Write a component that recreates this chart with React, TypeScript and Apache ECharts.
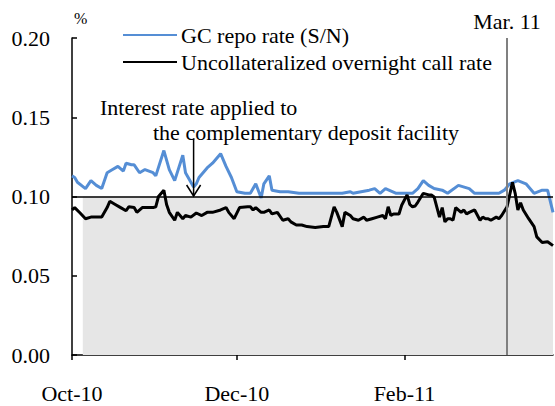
import React, { useEffect, useRef } from "react";
import * as echarts from "echarts";

const FONT = "Liberation Serif";

const startDate = "2010-10-01";
const endDate = "2011-03-28";

const xTickDates = ["2010-10-01", "2010-12-01", "2011-02-01"];
const xTickLabels = ["Oct-10", "Dec-10", "Feb-11"];
const yTicks = [0, 0.05, 0.1, 0.15, 0.2];

const seriesNames = ["GC repo rate (S/N)", "Uncollateralized overnight call rate"];

const repoDates = [
  "2010-10-01", "2010-10-02", "2010-10-03", "2010-10-06", "2010-10-08", "2010-10-10", "2010-10-12",
  "2010-10-14", "2010-10-16", "2010-10-18", "2010-10-20", "2010-10-21", "2010-10-23", "2010-10-24",
  "2010-10-26", "2010-10-28", "2010-10-31", "2010-11-01", "2010-11-04", "2010-11-06", "2010-11-08",
  "2010-11-11", "2010-11-12", "2010-11-15", "2010-11-16", "2010-11-17", "2010-11-20", "2010-11-22",
  "2010-11-25", "2010-11-27", "2010-11-29", "2010-12-01", "2010-12-04", "2010-12-06", "2010-12-08",
  "2010-12-10", "2010-12-11", "2010-12-13", "2010-12-14", "2010-12-17", "2010-12-20", "2010-12-24",
  "2011-01-09", "2011-01-12", "2011-01-13", "2011-01-19", "2011-01-21", "2011-01-23", "2011-01-25",
  "2011-01-29", "2011-02-04", "2011-02-06", "2011-02-08", "2011-02-10", "2011-02-12", "2011-02-15",
  "2011-02-17", "2011-02-21", "2011-02-25", "2011-02-27", "2011-03-08", "2011-03-10", "2011-03-12",
  "2011-03-15", "2011-03-18", "2011-03-21", "2011-03-24", "2011-03-26", "2011-03-28",
];
const repoValues = [
  0.113, 0.112, 0.109, 0.105, 0.11, 0.107, 0.105,
  0.115, 0.117, 0.119, 0.116, 0.121, 0.12, 0.12,
  0.115, 0.117, 0.115, 0.113, 0.129, 0.117, 0.11,
  0.126, 0.115, 0.106, 0.108, 0.112, 0.118, 0.121,
  0.127, 0.119, 0.112, 0.103, 0.102, 0.102, 0.108,
  0.099, 0.108, 0.113, 0.104, 0.103, 0.103, 0.102,
  0.102, 0.103, 0.102, 0.104, 0.105, 0.102, 0.105,
  0.102, 0.102, 0.105, 0.11, 0.107, 0.105, 0.104,
  0.102, 0.107, 0.105, 0.102, 0.102, 0.104, 0.108,
  0.11, 0.108, 0.102, 0.104, 0.104, 0.09,
];

const callDates = [
  "2010-10-01", "2010-10-02", "2010-10-04", "2010-10-06", "2010-10-08", "2010-10-10", "2010-10-12",
  "2010-10-14", "2010-10-15", "2010-10-17", "2010-10-19", "2010-10-21", "2010-10-22", "2010-10-24",
  "2010-10-25", "2010-10-27", "2010-10-31", "2010-11-01", "2010-11-02", "2010-11-04", "2010-11-05",
  "2010-11-06", "2010-11-08", "2010-11-09", "2010-11-11", "2010-11-12", "2010-11-14", "2010-11-16",
  "2010-11-18", "2010-11-20", "2010-11-22", "2010-11-25", "2010-11-27", "2010-11-28", "2010-11-30",
  "2010-12-02", "2010-12-05", "2010-12-06", "2010-12-07", "2010-12-08", "2010-12-10", "2010-12-11",
  "2010-12-13", "2010-12-14", "2010-12-16", "2010-12-18", "2010-12-20", "2010-12-21", "2010-12-23",
  "2010-12-25", "2010-12-27", "2010-12-30", "2011-01-02", "2011-01-04", "2011-01-06", "2011-01-07",
  "2011-01-09", "2011-01-10", "2011-01-12", "2011-01-13", "2011-01-15", "2011-01-17", "2011-01-18",
  "2011-01-20", "2011-01-22", "2011-01-24", "2011-01-25", "2011-01-26", "2011-01-27", "2011-01-28",
  "2011-01-30", "2011-01-31", "2011-02-02", "2011-02-03", "2011-02-04", "2011-02-05", "2011-02-06",
  "2011-02-08", "2011-02-09", "2011-02-10", "2011-02-11", "2011-02-12", "2011-02-14", "2011-02-15",
  "2011-02-16", "2011-02-17", "2011-02-18", "2011-02-19", "2011-02-20", "2011-02-22", "2011-02-23",
  "2011-02-24", "2011-02-25", "2011-02-27", "2011-03-01", "2011-03-02", "2011-03-03", "2011-03-04",
  "2011-03-05", "2011-03-07", "2011-03-08", "2011-03-09", "2011-03-11", "2011-03-13", "2011-03-14",
  "2011-03-15", "2011-03-16", "2011-03-17", "2011-03-19", "2011-03-21", "2011-03-22", "2011-03-24",
  "2011-03-26", "2011-03-28",
];
const callValues = [
  0.0915, 0.093, 0.0896, 0.086, 0.087, 0.087, 0.087,
  0.093, 0.097, 0.095, 0.093, 0.091, 0.0935, 0.093,
  0.09, 0.093, 0.093, 0.0935, 0.1, 0.104, 0.095,
  0.09, 0.085, 0.09, 0.086, 0.088, 0.087, 0.0896,
  0.088, 0.09, 0.09, 0.0915, 0.093, 0.09, 0.086,
  0.093, 0.0935, 0.0935, 0.0915, 0.093, 0.09, 0.09,
  0.0915, 0.089, 0.09, 0.085, 0.086, 0.084, 0.082,
  0.082, 0.081, 0.0805, 0.081, 0.081, 0.0935, 0.09,
  0.081, 0.09, 0.088, 0.086, 0.085, 0.087, 0.085,
  0.086, 0.087, 0.088, 0.086, 0.0935, 0.088, 0.089,
  0.089, 0.0945, 0.101, 0.095, 0.0935, 0.094, 0.0965,
  0.102, 0.1015, 0.101, 0.101, 0.0997, 0.087, 0.093,
  0.084, 0.086, 0.086, 0.085, 0.093, 0.09, 0.0915,
  0.089, 0.09, 0.0915, 0.085, 0.087, 0.086, 0.086,
  0.085, 0.087, 0.086, 0.088, 0.0935, 0.109, 0.102,
  0.0915, 0.096, 0.0915, 0.086, 0.081, 0.0745, 0.071,
  0.0715, 0.069,
];

// Complementary deposit facility rate (grey band)
const facilityDates = ["2010-10-05", "2011-03-28"];
const facilityRate = [0.1, 0.1];

const eventDate = "2011-03-11";
const eventLabel = "Mar. 11";
const annotationDate = "2010-11-15";
const annotationTop = 0.1367;
const annotationBottom = 0.1003;
const annotationLines = ["Interest rate applied to", "the complementary deposit facility"];

function toDay(s: string): number {
  const [y, m, d] = s.split("-").map(Number);
  const [y0, m0, d0] = startDate.split("-").map(Number);
  return (Date.UTC(y, m - 1, d) - Date.UTC(y0, m0 - 1, d0)) / 86400000;
}

export default function App() {
  const ref = useRef<HTMLDivElement>(null);
  useEffect(() => {
    if (!ref.current) return;
    const chart = echarts.init(ref.current, undefined, { renderer: "svg" });
    const tickDays = xTickDates.map(toDay);
    const textStyle = { fontFamily: FONT, fontSize: 22, color: "#000" };
    chart.setOption({
      animation: false,
      grid: { left: 72, right: 2, top: 38, bottom: 51 },
      legend: {
        data: seriesNames,
        orient: "vertical",
        left: 123,
        top: 24,
        padding: 0,
        icon: "rect",
        itemWidth: 54,
        itemHeight: 2,
        itemGap: 5,
        textStyle: { ...textStyle, lineHeight: 22, padding: [0, 0, 0, -1] },
      },
      xAxis: {
        type: "value",
        min: 0,
        max: toDay(endDate),
        splitLine: { show: false },
        axisLine: { show: true, lineStyle: { color: "#000", width: 1.5 } },
        axisTick: {
          show: true,
          customValues: tickDays,
          length: 5,
          inside: false,
          lineStyle: { color: "#000", width: 1.5 },
        },
        axisLabel: {
          customValues: tickDays,
          formatter: (v: number) => {
            const i = tickDays.indexOf(v);
            return i >= 0 ? xTickLabels[i] : "";
          },
          margin: 27,
          ...textStyle,
        },
      },
      yAxis: {
        type: "value",
        min: yTicks[0],
        max: yTicks[yTicks.length - 1],
        interval: 0.05,
        name: "%",
        nameLocation: "end",
        nameGap: 12,
        nameTextStyle: { fontFamily: FONT, fontSize: 16, color: "#000", align: "left", padding: [0, 0, 0, 2] },
        splitLine: { show: false },
        axisLine: { show: true, lineStyle: { color: "#000", width: 1.5 } },
        axisTick: { show: true, inside: true, length: 5, lineStyle: { color: "#000", width: 1.5 } },
        axisLabel: { formatter: (v: number) => v.toFixed(2), margin: 22, ...textStyle },
      },
      series: [
        {
          name: "facility",
          type: "line",
          z: 1,
          symbol: "none",
          data: facilityDates.map((d, i) => [toDay(d), facilityRate[i]]),
          lineStyle: { width: 0, opacity: 0 },
          areaStyle: { color: "#e6e6e6", opacity: 1, origin: "start" },
          silent: true,
          markLine: {
            silent: true,
            symbol: "none",
            animation: false,
            data: [
              { yAxis: 0.1, lineStyle: { color: "#000", width: 1.5, type: "solid" }, label: { show: false } },
              {
                xAxis: toDay(eventDate),
                lineStyle: { color: "#808080", width: 2, type: "solid" },
                label: {
                  show: true,
                  position: "end",
                  formatter: eventLabel,
                  distance: 6,
                  ...textStyle,
                },
              },
            ],
          },
        },
        {
          name: seriesNames[0],
          type: "line",
          z: 3,
          symbol: "none",
          data: repoDates.map((d, i) => [toDay(d), repoValues[i]]),
          lineStyle: { color: "#558ED5", width: 3 },
          itemStyle: { color: "#558ED5" },
        },
        {
          name: seriesNames[1],
          type: "line",
          z: 4,
          symbol: "none",
          data: callDates.map((d, i) => [toDay(d), callValues[i]]),
          lineStyle: { color: "#000", width: 3 },
          itemStyle: { color: "#000" },
        },
      ],
    });

    const p1 = chart.convertToPixel({ gridIndex: 0 }, [toDay(annotationDate), annotationTop]) as number[];
    const p2 = chart.convertToPixel({ gridIndex: 0 }, [toDay(annotationDate), annotationBottom]) as number[];
    chart.setOption({
      graphic: [
        {
          type: "text",
          x: 100,
          y: 107,
          z: 10,
          style: { text: annotationLines[0], fontFamily: FONT, fontSize: 22, fill: "#000", verticalAlign: "middle", align: "left" },
        },
        {
          type: "text",
          x: 153,
          y: 132,
          z: 10,
          style: { text: annotationLines[1], fontFamily: FONT, fontSize: 22, fill: "#000", verticalAlign: "middle", align: "left" },
        },
        {
          type: "line",
          z: 10,
          shape: { x1: p1[0], y1: p1[1], x2: p2[0], y2: p2[1] },
          style: { stroke: "#000", lineWidth: 1.5 },
        },
        {
          type: "polyline",
          z: 10,
          shape: { points: [[p2[0] - 7, p2[1] - 11], [p2[0], p2[1]], [p2[0] + 7, p2[1] - 11]] },
          style: { stroke: "#000", lineWidth: 1.5, fill: "none" },
        },
      ],
    });

    return () => chart.dispose();
  }, []);
  return <div ref={ref} style={{ position: "absolute", left: 0, top: 0, width: 555, height: 406 }} />;
}
